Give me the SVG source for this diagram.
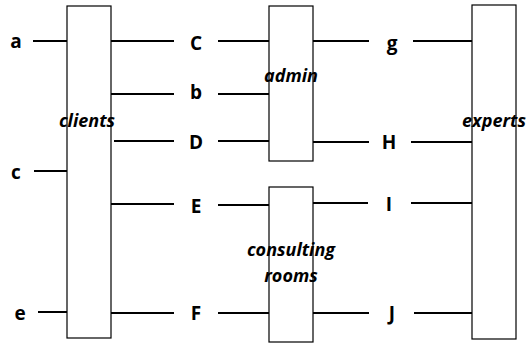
<svg xmlns="http://www.w3.org/2000/svg" width="527" height="344" viewBox="0 0 527 344">
  <style>
    .box { fill: #ffffff; stroke: #000000; stroke-width: 1.2; }
    .wire { stroke: #000000; stroke-width: 2; fill: none; }
    .lbl { font-family: "Open Sans", "Liberation Sans", Arial, sans-serif; font-size: 19px; font-weight: bold; fill: #000000; text-anchor: middle; dominant-baseline: central; }
    .name { font-family: "Open Sans", "Liberation Sans", Arial, sans-serif; font-size: 18px; font-weight: bold; font-style: italic; fill: #000000; text-anchor: middle; dominant-baseline: central; }
  </style>
  <rect width="527" height="344" fill="#ffffff"/>

  <!-- connectors -->
  <g id="connectors">
    <line class="wire" x1="33" y1="41" x2="67" y2="41"/>
    <line class="wire" x1="34" y1="171" x2="67" y2="171"/>
    <line class="wire" x1="38" y1="312" x2="68" y2="312"/>

    <line class="wire" x1="111" y1="41" x2="174" y2="41"/>
    <line class="wire" x1="111" y1="94" x2="174" y2="94"/>
    <line class="wire" x1="114" y1="141" x2="174" y2="141"/>
    <line class="wire" x1="111" y1="204" x2="174" y2="204"/>
    <line class="wire" x1="111" y1="313" x2="174" y2="313"/>

    <line class="wire" x1="218" y1="41" x2="271" y2="41"/>
    <line class="wire" x1="218" y1="94" x2="269" y2="94"/>
    <line class="wire" x1="218" y1="141" x2="269" y2="141"/>
    <line class="wire" x1="218" y1="205" x2="269" y2="205"/>
    <line class="wire" x1="218" y1="313" x2="270" y2="313"/>

    <line class="wire" x1="313" y1="41" x2="369" y2="41"/>
    <line class="wire" x1="313" y1="142" x2="369" y2="142"/>
    <line class="wire" x1="313" y1="203" x2="368" y2="203"/>
    <line class="wire" x1="313" y1="313" x2="369" y2="313"/>

    <line class="wire" x1="413" y1="41" x2="474" y2="41"/>
    <line class="wire" x1="411" y1="142" x2="474" y2="142"/>
    <line class="wire" x1="411" y1="203" x2="474" y2="203"/>
    <line class="wire" x1="414" y1="313" x2="474" y2="313"/>
  </g>

  <!-- boxes -->
  <g id="clients">
    <rect class="box" x="67" y="6" width="44" height="332"/>
    <text class="name" x="87" y="120">clients</text>
  </g>
  <g id="admin">
    <rect class="box" x="269" y="6" width="44" height="155"/>
    <text class="name" x="291" y="75">admin</text>
  </g>
  <g id="consulting-rooms">
    <rect class="box" x="269" y="187" width="44" height="155"/>
    <text class="name" x="291" y="249">consulting</text>
    <text class="name" x="291" y="275">rooms</text>
  </g>
  <g id="experts">
    <rect class="box" x="472" y="5" width="44" height="334"/>
    <text class="name" x="494" y="120">experts</text>
  </g>

  <!-- point labels -->
  <g id="a"><text class="lbl" x="16" y="41">a</text></g>
  <g id="c"><text class="lbl" x="16" y="172">c</text></g>
  <g id="e"><text class="lbl" x="20" y="313">e</text></g>
  <g id="C"><text class="lbl" x="196" y="43">C</text></g>
  <g id="b"><text class="lbl" x="196" y="92">b</text></g>
  <g id="D"><text class="lbl" x="196" y="142">D</text></g>
  <g id="E"><text class="lbl" x="196" y="206">E</text></g>
  <g id="F"><text class="lbl" x="196" y="313">F</text></g>
  <g id="g"><text class="lbl" x="392" y="43">g</text></g>
  <g id="H"><text class="lbl" x="389" y="142">H</text></g>
  <g id="I"><text class="lbl" x="389" y="204">I</text></g>
  <g id="J"><text class="lbl" x="392" y="313">J</text></g>
</svg>
